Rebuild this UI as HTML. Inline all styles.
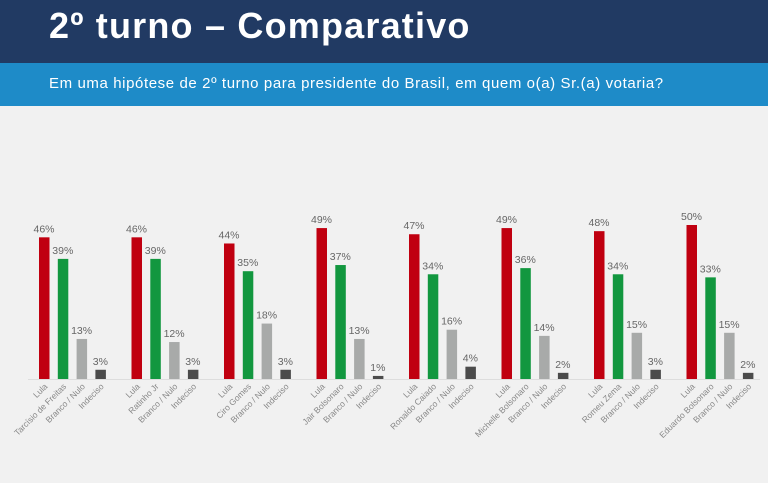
<!DOCTYPE html>
<html><head><meta charset="utf-8"><style>
body{margin:0;width:768px;height:483px;overflow:hidden;background:#f1f1f1;font-family:"Liberation Sans",sans-serif}
.h{position:absolute;left:0;top:0;width:768px;height:63px;background:#213a63}
.h div{position:absolute;left:49px;top:5px;color:#fff;font-weight:bold;font-size:36px;letter-spacing:1.2px}
.s{position:absolute;left:0;top:63px;width:768px;height:43px;background:#1e8bc8}
.s div{position:absolute;left:49px;top:12px;color:#fff;font-size:15px;letter-spacing:0.6px}
svg{position:absolute;left:0;top:0}
</style></head><body>
<div class="h"><div>2º turno – Comparativo</div></div>
<div class="s"><div>Em uma hipótese de 2º turno para presidente do Brasil, em quem o(a) Sr.(a) votaria?</div></div>
<svg width="768" height="483" id="c"></svg>
<script>
var d=[["Tarcísio de Freitas",46,39,13,3],["Ratinho Jr",46,39,12,3],["Ciro Gomes",44,35,18,3],["Jair Bolsonaro",49,37,13,1],["Ronaldo Caiado",47,34,16,4],["Michelle Bolsonaro",49,36,14,2],["Romeu Zema",48,34,15,3],["Eduardo Bolsonaro",50,33,15,2]];
var cols=["#c00010","#12973f","#a8aaa9","#4b4b4b"],s="",B=379,k=3.08;
s+='<line x1="28" x2="760" y1="379.5" y2="379.5" stroke="#ddd"/>';
d.forEach(function(g,i){var x0=39+i*92.5;var names=["Lula",g[0],"Branco / Nulo","Indeciso"];
for(var j=0;j<4;j++){var v=g[j+1],x=x0+j*18.8,h=v*k;
s+='<rect x="'+x+'" y="'+(B-h)+'" width="10.5" height="'+h+'" fill="'+cols[j]+'"/>';
s+='<text x="'+(x+5)+'" y="'+(B-h-5)+'" font-size="10.5" fill="#666" text-anchor="middle">'+v+'%</text>';
s+='<text transform="translate('+(x+9)+',387) rotate(-45)" font-size="8.5" fill="#888" text-anchor="end">'+names[j]+'</text>';}});
document.getElementById("c").innerHTML=s;
</script>
</body></html>
